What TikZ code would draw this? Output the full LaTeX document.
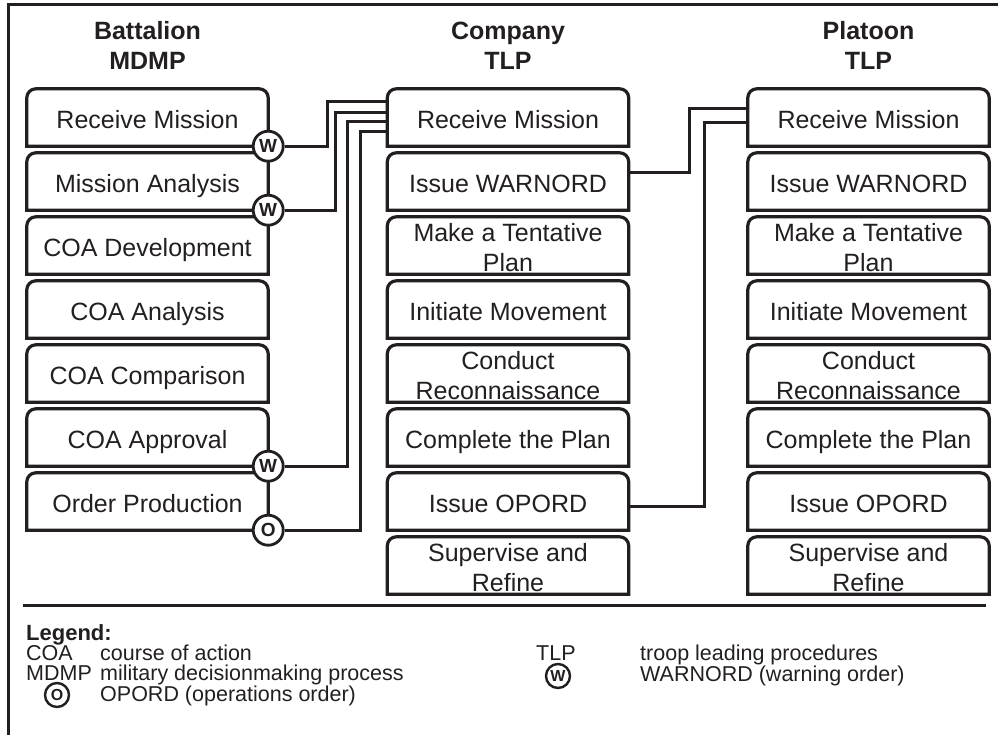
\documentclass[tikz,border=0pt]{standalone}
\usepackage{fontspec}
\setmainfont{Liberation Sans}
\definecolor{ink}{HTML}{231F20}
\tikzset{
  boxshape/.style={minimum width=241pt, minimum height=57pt, inner sep=0pt},
  boxline/.style={draw=ink, line width=3.2pt},
  oneline/.style={inner sep=0pt, font=\fontsize{25}{30}\selectfont, text=ink, text height=18pt, text depth=0pt},
  twoline/.style={inner sep=0pt, align=center, font=\fontsize{25}{30}\selectfont, text=ink},
  conn/.style={draw=ink, line width=3pt},
  badge/.style={circle, draw=ink, fill=white, line width=2.8pt, minimum size=30pt, inner sep=0pt, font=\fontsize{19}{19}\bfseries, text=ink},
  head/.style={font=\fontsize{25}{30}\bfseries, anchor=base, text=ink, inner sep=0pt},
  leg/.style={font=\fontsize{21.5}{21.5}\selectfont, anchor=base west, inner sep=0pt, text=ink},
  legb/.style={font=\fontsize{22}{22}\bfseries, anchor=base west, inner sep=0pt, text=ink},
  legbadge/.style={circle, draw=ink, line width=2.4pt, minimum size=24pt, inner sep=0pt, font=\fontsize{16}{16}\bfseries, text=ink}
}
\newcommand\tlpbox[5]{%
  \node[boxshape] (#1) at (#2,#3) {};
  \draw[boxline] (#1.south west) -- ([yshift=-9pt]#1.north west)
    arc[start angle=180,end angle=90,radius=9pt]
    -- ([xshift=-9pt]#1.north east)
    arc[start angle=90,end angle=0,radius=9pt]
    -- (#1.south east) -- cycle;
  \node[#4] (#1t) at ([yshift=-2.4pt]#1.center) {#5};
}
\begin{document}
\begin{tikzpicture}[x=1pt,y=-1pt]
\useasboundingbox (0,0) rectangle (998,735);
% frame
\draw[draw=ink, line width=3pt] (8,735) -- (8,5) -- (998,5);
% headers
\node[head] (h1a) at (147.5,39.5) {Battalion};
\node[head] (h1b) at (147.5,69.5) {MDMP};
\node[head] (h2a) at (508,39.5) {Company};
\node[head] (h2b) at (508,69.5) {TLP};
\node[head] (h3a) at (868.5,39.5) {Platoon};
\node[head] (h3b) at (868.5,69.5) {TLP};
% battalion column
\tlpbox{b1}{147.5}{117.5}{oneline}{Receive Mission}
\tlpbox{b2}{147.5}{181.5}{oneline}{Mission Analysis}
\tlpbox{b3}{147.5}{245.5}{oneline}{COA Development}
\tlpbox{b4}{147.5}{309.5}{oneline}{COA Analysis}
\tlpbox{b5}{147.5}{373.5}{oneline}{COA Comparison}
\tlpbox{b6}{147.5}{437.5}{oneline}{COA Approval}
\tlpbox{b7}{147.5}{501.5}{oneline}{Order Production}
% company column
\tlpbox{c1}{508}{117.5}{oneline}{Receive Mission}
\tlpbox{c2}{508}{181.5}{oneline}{Issue WARNORD}
\tlpbox{c3}{508}{245.5}{twoline}{Make a Tentative\\Plan}
\tlpbox{c4}{508}{309.5}{oneline}{Initiate Movement}
\tlpbox{c5}{508}{373.5}{twoline}{Conduct\\Reconnaissance}
\tlpbox{c6}{508}{437.5}{oneline}{Complete the Plan}
\tlpbox{c7}{508}{501.5}{oneline}{Issue OPORD}
\tlpbox{c8}{508}{565.5}{twoline}{Supervise and\\Refine}
% platoon column
\tlpbox{p1}{868.5}{117.5}{oneline}{Receive Mission}
\tlpbox{p2}{868.5}{181.5}{oneline}{Issue WARNORD}
\tlpbox{p3}{868.5}{245.5}{twoline}{Make a Tentative\\Plan}
\tlpbox{p4}{868.5}{309.5}{oneline}{Initiate Movement}
\tlpbox{p5}{868.5}{373.5}{twoline}{Conduct\\Reconnaissance}
\tlpbox{p6}{868.5}{437.5}{oneline}{Complete the Plan}
\tlpbox{p7}{868.5}{501.5}{oneline}{Issue OPORD}
\tlpbox{p8}{868.5}{565.5}{twoline}{Supervise and\\Refine}
% badges
\node[badge] (w1) at (b1.south east) {W};
\node[badge] (w2) at (b2.south east) {W};
\node[badge] (w3) at (b6.south east) {W};
\node[badge] (o1) at (b7.south east) {O};
% bend points
\coordinate (k1) at (327,102);
\coordinate (k2) at (335,113);
\coordinate (k3) at (347,122);
\coordinate (k4) at (360,132);
\coordinate (m1) at (689,109);
\coordinate (m2) at (704,123);
% connectors battalion -> company
\draw[conn] (w1.east) -| (k1) -- (k1 -| c1.west);
\draw[conn] (w2.east) -| (k2) -- (k2 -| c1.west);
\draw[conn] (w3.east) -| (k3) -- (k3 -| c1.west);
\draw[conn] (o1.east) -| (k4) -- (k4 -| c1.west);
% connectors company -> platoon
\draw[conn] ([yshift=8.5pt]c2.east) -| (m1) -- (m1 -| p1.west);
\draw[conn] ([yshift=-4.5pt]c7.east) -| (m2) -- (m2 -| p1.west);
% legend
\draw[draw=ink, line width=3pt] (23,605) -- (986,605);
\node[legb] (lg) at (26,640) {Legend:};
\node[leg] (l1a) at (26,660) {COA};
\node[leg] (l1b) at (100,660) {course of action};
\node[leg] (l2a) at (26,680) {MDMP};
\node[leg] (l2b) at (100,680) {military decisionmaking process};
\node[legbadge] (l3a) at (57,695) {O};
\node[leg] (l3b) at (100,701) {OPORD (operations order)};
\node[leg] (l4a) at (536,660) {TLP};
\node[leg] (l4b) at (640,660) {troop leading procedures};
\node[legbadge] (l5a) at (558,676) {W};
\node[leg] (l5b) at (640,681) {WARNORD (warning order)};
\end{tikzpicture}
\end{document}
